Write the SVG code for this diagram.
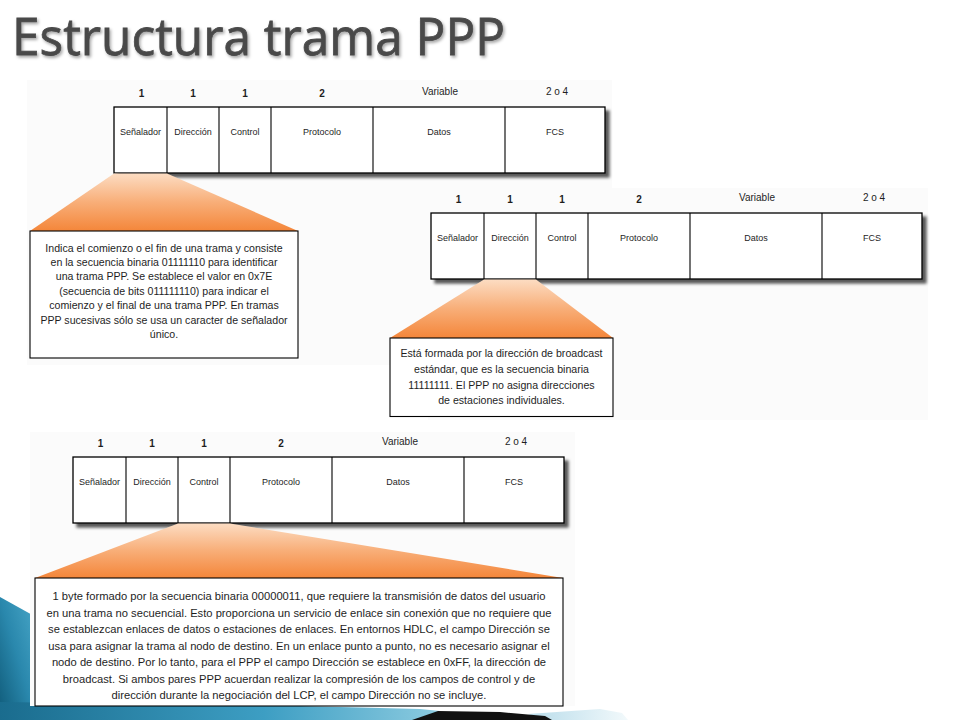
<svg xmlns="http://www.w3.org/2000/svg" width="960" height="720" viewBox="0 0 960 720">
<defs>
<style>
.t{font-family:"Liberation Sans",Arial,sans-serif;fill:#1e1e1e;text-anchor:middle}
.lbl{font-size:9px}
.num{font-size:10px;font-weight:bold}
.var{font-size:10px}
.b1{font-size:10.6px}
.b2{font-size:10.6px}
.b3{font-size:11.2px}
.frame{fill:#fff;stroke:#000;stroke-width:1.3}
.div{stroke:#000;stroke-width:1.1}
.box{fill:#fff;stroke:#000;stroke-width:1.1}
.panel{fill:#fbfbfb}
.cone{fill:url(#cone)}
</style>
<linearGradient id="cone" x1="0" y1="0" x2="0" y2="1">
<stop offset="0" stop-color="#fcdcc2"/>
<stop offset="0.5" stop-color="#f8ae78"/>
<stop offset="1" stop-color="#f4863a"/>
</linearGradient>
<linearGradient id="teal" x1="0" y1="1" x2="1" y2="0">
<stop offset="0" stop-color="#0f5a78"/>
<stop offset="0.5" stop-color="#2a88ad"/>
<stop offset="1" stop-color="#4aa8c9"/>
</linearGradient>
<linearGradient id="band" x1="0" y1="0" x2="1" y2="0">
<stop offset="0" stop-color="#1a6c8e"/>
<stop offset="0.6" stop-color="#3d9ec3"/>
<stop offset="1" stop-color="#8ccbe0"/>
</linearGradient>
<linearGradient id="pale" x1="0" y1="0" x2="1" y2="0">
<stop offset="0" stop-color="#b8dcea"/>
<stop offset="1" stop-color="#f2f9fb"/>
</linearGradient>
<filter id="sh" x="-5%" y="-10%" width="115%" height="130%">
<feDropShadow dx="4" dy="4" stdDeviation="1.6" flood-color="#000" flood-opacity="0.65"/>
</filter>
<filter id="tsh" x="-5%" y="-20%" width="110%" height="150%">
<feDropShadow dx="1.5" dy="2" stdDeviation="1.5" flood-color="#000" flood-opacity="0.35"/>
</filter>
</defs>

<rect width="960" height="720" fill="#fff"/>

<g id="title">
<text x="12" y="55" font-family="'Open Sans','Noto Sans',sans-serif" font-size="52" fill="#4a4a4a" stroke="#4a4a4a" stroke-width="0.8" textLength="493" lengthAdjust="spacingAndGlyphs" filter="url(#tsh)">Estructura trama PPP</text>
</g>

<g id="decoration">
<polygon points="0,597 36,617 36,720 0,720" fill="url(#teal)"/>
<polygon points="0,702 300,706 420,709 440,711 420,720 0,720" fill="url(#band)"/>
<polygon points="528,714 600,709 622,713 628,720 548,720" fill="url(#pale)"/>
<polygon points="412,720 438,711 500,712 545,716 552,720" fill="#111"/>
</g>

<g id="panels">
<rect class="panel" x="27" y="80" width="585" height="285"/>
<rect class="panel" x="428" y="188" width="500" height="232"/>
<rect class="panel" x="30" y="432" width="545" height="274"/>
</g>

<g id="frame-1">
<rect class="frame" x="114" y="107" width="491" height="66" filter="url(#sh)"/>
<path class="div" d="M167,107V173M219,107V173M271,107V173M373,107V173M505,107V173"/>
<text class="t num" x="141.5" y="96.5">1</text>
<text class="t num" x="193" y="96.5">1</text>
<text class="t num" x="245" y="96.5">1</text>
<text class="t num" x="322" y="96.5">2</text>
<text class="t var" x="440" y="95">Variable</text>
<text class="t var" x="557" y="95">2 o 4</text>
<text class="t lbl" x="140.5" y="135">Señalador</text>
<text class="t lbl" x="193" y="135">Dirección</text>
<text class="t lbl" x="245" y="135">Control</text>
<text class="t lbl" x="322" y="135">Protocolo</text>
<text class="t lbl" x="439" y="135">Datos</text>
<text class="t lbl" x="555" y="135">FCS</text>
</g>

<g id="frame-2">
<rect class="frame" x="431" y="213" width="491" height="66" filter="url(#sh)"/>
<path class="div" d="M484,213V279M536,213V279M588,213V279M690,213V279M822,213V279"/>
<text class="t num" x="458.5" y="202.5">1</text>
<text class="t num" x="510" y="202.5">1</text>
<text class="t num" x="562" y="202.5">1</text>
<text class="t num" x="639" y="202.5">2</text>
<text class="t var" x="757" y="201">Variable</text>
<text class="t var" x="874" y="201">2 o 4</text>
<text class="t lbl" x="457.5" y="241">Señalador</text>
<text class="t lbl" x="510" y="241">Dirección</text>
<text class="t lbl" x="562" y="241">Control</text>
<text class="t lbl" x="639" y="241">Protocolo</text>
<text class="t lbl" x="756" y="241">Datos</text>
<text class="t lbl" x="872" y="241">FCS</text>
</g>

<g id="frame-3">
<rect class="frame" x="73" y="457" width="491" height="66" filter="url(#sh)"/>
<path class="div" d="M126,457V523M178,457V523M230,457V523M332,457V523M464,457V523"/>
<text class="t num" x="100.5" y="446.5">1</text>
<text class="t num" x="152" y="446.5">1</text>
<text class="t num" x="204" y="446.5">1</text>
<text class="t num" x="281" y="446.5">2</text>
<text class="t var" x="400" y="445">Variable</text>
<text class="t var" x="516" y="445">2 o 4</text>
<text class="t lbl" x="99.5" y="485">Señalador</text>
<text class="t lbl" x="152" y="485">Dirección</text>
<text class="t lbl" x="204" y="485">Control</text>
<text class="t lbl" x="281" y="485">Protocolo</text>
<text class="t lbl" x="398" y="485">Datos</text>
<text class="t lbl" x="514" y="485">FCS</text>
</g>

<g id="connectors">
<polygon class="cone" points="114,173.6 167,173.6 298,231 30,231"/>
<polygon class="cone" points="484,279.6 536,279.6 613,338 390,338"/>
<polygon class="cone" points="178,523.6 230,523.6 563,578 35,578"/>
</g>

<g id="callout-senalador">
<rect class="box" x="30" y="231" width="268" height="127"/>
<text class="t b1" x="164" y="251.5">Indica el comienzo o el fin de una trama y consiste</text>
<text class="t b1" x="164" y="265.9">en la secuencia binaria 01111110 para identificar</text>
<text class="t b1" x="164" y="280.3">una trama PPP. Se establece el valor en 0x7E</text>
<text class="t b1" x="164" y="294.7">(secuencia de bits 011111110) para indicar el</text>
<text class="t b1" x="164" y="309.1">comienzo y el final de una trama PPP. En tramas</text>
<text class="t b1" x="164" y="323.5">PPP sucesivas sólo se usa un caracter de señalador</text>
<text class="t b1" x="164" y="337.9">único.</text>
</g>

<g id="callout-direccion">
<rect class="box" x="390" y="338" width="223" height="78.5"/>
<text class="t b2" x="501.5" y="357">Está formada por la dirección de broadcast</text>
<text class="t b2" x="501.5" y="372.8">estándar, que es la secuencia binaria</text>
<text class="t b2" x="501.5" y="388.6">11111111. El PPP no asigna direcciones</text>
<text class="t b2" x="501.5" y="404.4">de estaciones individuales.</text>
</g>

<g id="callout-control">
<rect class="box" x="35" y="578" width="528" height="128"/>
<text class="t b3" x="299" y="600">1 byte formado por la secuencia binaria 00000011, que requiere la transmisión de datos del usuario</text>
<text class="t b3" x="299" y="616.5">en una trama no secuencial. Esto proporciona un servicio de enlace sin conexión que no requiere que</text>
<text class="t b3" x="299" y="633">se establezcan enlaces de datos o estaciones de enlaces. En entornos HDLC, el campo Dirección se</text>
<text class="t b3" x="299" y="649.5">usa para asignar la trama al nodo de destino. En un enlace punto a punto, no es necesario asignar el</text>
<text class="t b3" x="299" y="666">nodo de destino. Por lo tanto, para el PPP el campo Dirección se establece en 0xFF, la dirección de</text>
<text class="t b3" x="299" y="682.5">broadcast. Si ambos pares PPP acuerdan realizar la compresión de los campos de control y de</text>
<text class="t b3" x="299" y="699">dirección durante la negociación del LCP, el campo Dirección no se incluye.</text>
</g>
</svg>
